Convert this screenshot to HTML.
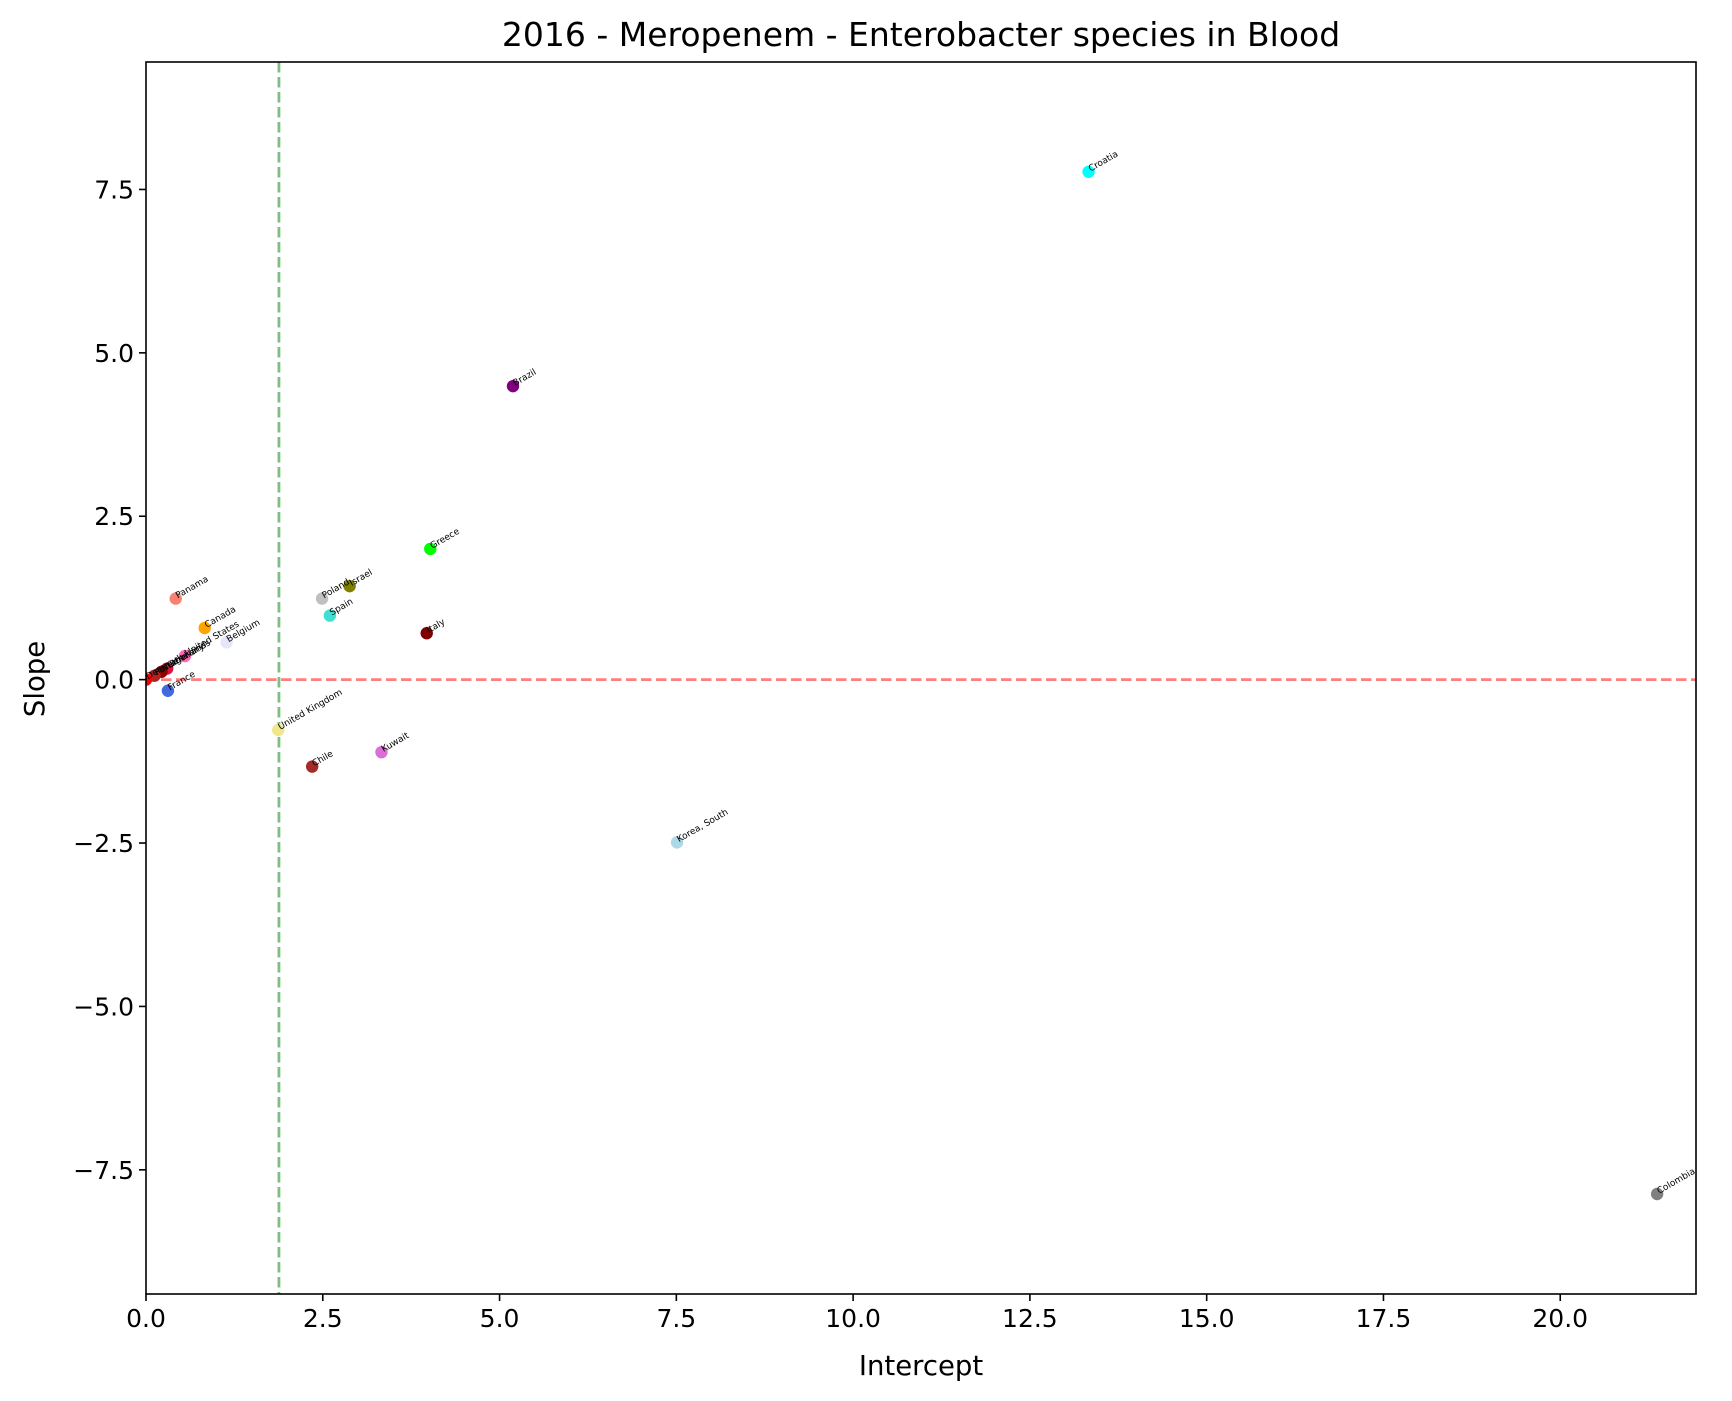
<!DOCTYPE html>
<html><head><meta charset="utf-8"><style>
html,body{margin:0;padding:0;background:#fff}
svg{display:block;font-family:"DejaVu Sans","Liberation Sans",sans-serif}
</style></head><body>
<svg id="chart" width="1732" height="1401" viewBox="0 0 1732 1401">
<rect x="0" y="0" width="1732" height="1401" fill="#fff"/>
<text x="921" y="46" font-size="33" text-anchor="middle">2016 - Meropenem - Enterobacter species in Blood</text>
<g id="plot"></g>
<text x="921" y="1375" font-size="27.5" text-anchor="middle">Intercept</text>
<text x="0" y="0" font-size="27.5" text-anchor="middle" transform="translate(44,679) rotate(-90)">Slope</text>
</svg>
<script>
const countries = ["Croatia","Brazil","Greece","Israel","Poland","Spain","Italy","Panama","Canada","Belgium","United States","Germany","Netherlands","Portugal","Denmark","France","United Kingdom","Chile","Kuwait","Korea, South","Colombia"];
const intercepts = [13.33,5.19,4.02,2.88,2.49,2.60,3.97,0.42,0.83,1.14,0.55,0.30,0.22,0.12,0.0,0.31,1.87,2.35,3.33,7.51,21.37];
const slopes = [7.77,4.49,2.0,1.43,1.24,0.98,0.71,1.24,0.79,0.57,0.36,0.17,0.12,0.06,0.0,-0.17,-0.77,-1.33,-1.11,-2.49,-7.87];
const colors = ["#00ffff","#800080","#00ff00","#808000","#c0c0c0","#40e0d0","#800000","#fa8072","#ffa500","#e6e6fa","#ff69b4","#dc143c","#8b0000","#b22222","#ff0000","#4169e1","#f0e68c","#a52a2a","#da70d6","#add8e6","#808080"];
const xTicks = [0,2.5,5,7.5,10,12.5,15,17.5,20];
const xTickLabels = ["0.0","2.5","5.0","7.5","10.0","12.5","15.0","17.5","20.0"];
const yTicks = [-7.5,-5,-2.5,0,2.5,5,7.5];
const yTickLabels = ["\u22127.5","\u22125.0","\u22122.5","0.0","2.5","5.0","7.5"];
const vLine = 1.88;
const hLine = 0;

const L=146,R=1696,T=62,B=1294;
const xMin=0,xMax=21.92,yMin=-9.40,yMax=9.45;
const sx=v=>L+(v-xMin)/(xMax-xMin)*(R-L);
const sy=v=>B-(v-yMin)/(yMax-yMin)*(B-T);
const NS="http://www.w3.org/2000/svg";
const g=document.getElementById('plot');
function mk(tag,attrs){const e=document.createElementNS(NS,tag);for(const k in attrs)e.setAttribute(k,attrs[k]);g.appendChild(e);return e;}

const defs=document.createElementNS(NS,'defs');
const cp=document.createElementNS(NS,'clipPath');cp.setAttribute('id','clip');
const cr=document.createElementNS(NS,'rect');cr.setAttribute('x',L);cr.setAttribute('y',T);cr.setAttribute('width',R-L);cr.setAttribute('height',B-T);cp.appendChild(cr);
defs.appendChild(cp);g.appendChild(defs);

const gl=mk('line',{x1:sx(vLine),x2:sx(vLine),y1:T,y2:B,stroke:'#7fbf7f','stroke-width':2.8,'stroke-dasharray':'10.5,4.5'});


const rl=mk('line',{x1:L,x2:R,y1:sy(hLine),y2:sy(hLine),stroke:'#ff7f7f','stroke-width':2.8,'stroke-dasharray':'10.5,4.5'});



for(let i=0;i<countries.length;i++){
  const px=sx(intercepts[i]),py=sy(slopes[i]);
  const c=mk('circle',{cx:px,cy:py,r:6.2,fill:colors[i],'clip-path':'url(#clip)'});
  
  
  const t=mk('text',{x:0,y:0,'font-size':9,transform:`translate(${px+2},${py}) rotate(-30)`});
  t.textContent=countries[i];
  
  
}

const fr=mk('rect',{x:L,y:T,width:R-L,height:B-T,fill:'none',stroke:'#000','stroke-width':1.6});



xTicks.forEach((v,i)=>{
  const x=sx(v);
  const tk=mk('line',{x1:x,x2:x,y1:B,y2:B+7,stroke:'#000','stroke-width':1.6});
  
  
  const t=mk('text',{x:x,y:B+33,'font-size':25,'text-anchor':'middle'});
  t.textContent=xTickLabels[i];
  
  
});
yTicks.forEach((v,i)=>{
  const y=sy(v);
  const tk=mk('line',{x1:L-7,x2:L,y1:y,y2:y,stroke:'#000','stroke-width':1.6});
  
  
  const t=mk('text',{x:L-12,y:y+9,'font-size':25,'text-anchor':'end'});
  t.textContent=yTickLabels[i];
  
  
});
</script>
</body></html>
